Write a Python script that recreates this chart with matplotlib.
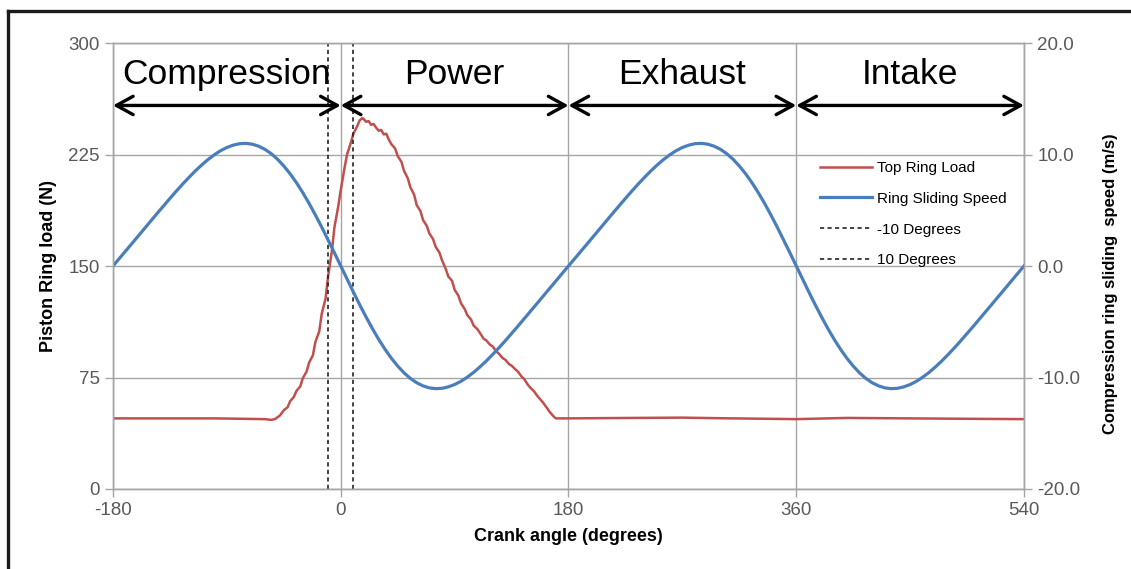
import matplotlib
matplotlib.use("Agg")
import matplotlib.pyplot as plt
from matplotlib.lines import Line2D

plt.rcParams['font.family'] = ['Liberation Sans', 'DejaVu Sans']
plt.rcParams['axes.unicode_minus'] = False

# Ring sliding speed (m/s), read every 5 degrees of crank angle
speed_deg = list(range(-180, 545, 5))
speed_val = [
    # -180 .. 0
    0.00, 0.67, 1.35, 2.02, 2.70, 3.38, 4.05, 4.73, 5.40, 6.06, 6.71, 7.34,
    7.94, 8.52, 9.05, 9.54, 9.97, 10.34, 10.63, 10.84, 10.97, 11.00, 10.93,
    10.75, 10.47, 10.08, 9.58, 8.97, 8.27, 7.47, 6.58, 5.61, 4.57, 3.48,
    2.34, 1.18, 0.00,
    # 5 .. 180
    -1.18, -2.34, -3.48, -4.57, -5.61, -6.58, -7.47, -8.27, -8.97, -9.58,
    -10.08, -10.47, -10.75, -10.93, -11.00, -10.97, -10.84, -10.63, -10.34,
    -9.97, -9.54, -9.05, -8.52, -7.94, -7.34, -6.71, -6.06, -5.40, -4.73,
    -4.05, -3.38, -2.70, -2.02, -1.35, -0.67, 0.00,
    # 185 .. 360
    0.67, 1.35, 2.02, 2.70, 3.38, 4.05, 4.73, 5.40, 6.06, 6.71, 7.34,
    7.94, 8.52, 9.05, 9.54, 9.97, 10.34, 10.63, 10.84, 10.97, 11.00, 10.93,
    10.75, 10.47, 10.08, 9.58, 8.97, 8.27, 7.47, 6.58, 5.61, 4.57, 3.48,
    2.34, 1.18, 0.00,
    # 365 .. 540
    -1.18, -2.34, -3.48, -4.57, -5.61, -6.58, -7.47, -8.27, -8.97, -9.58,
    -10.08, -10.47, -10.75, -10.93, -11.00, -10.97, -10.84, -10.63, -10.34,
    -9.97, -9.54, -9.05, -8.52, -7.94, -7.34, -6.71, -6.06, -5.40, -4.73,
    -4.05, -3.38, -2.70, -2.02, -1.35, -0.67, 0.00,
]

# Top ring load (N)
load_deg = [-180, -100, -60, -55, -52, -48, -45, -42, -40, -37, -35, -32, -30,
            -27, -25, -22, -20, -17, -15, -12, -10, -7, -5, -2, 0, 3, 5, 8, 10,
            13, 15, 17, 18, 20, 22, 24, 26, 28, 30, 32, 34, 36, 38, 40, 43, 45,
            48, 50, 53, 55, 58, 60, 63, 65, 68, 70, 73, 75, 78, 80, 83, 85, 88,
            90, 93, 95, 98, 100, 103, 105, 108, 110, 113, 115, 118, 120, 123,
            125, 128, 130, 133, 135, 138, 140, 143, 145, 148, 150, 153, 155,
            158, 160, 163, 165, 168, 170, 180, 230, 270, 300, 360, 400, 450,
            500, 540]
load_val = [47.5, 47.5, 47.0, 46.5, 47.0, 49.5, 53, 55, 59, 62, 66, 69, 74.5,
            79, 85, 90, 99, 106, 118, 128, 143, 160, 176, 190, 201, 216, 225,
            233, 239, 244, 248, 249.5, 249, 247, 247.5, 245, 245.5, 243, 241,
            241.5, 238.5, 239, 235, 232, 229, 224, 220, 214, 209, 203, 198,
            191, 187, 181, 177, 172, 168, 163, 159, 154, 148, 143, 140, 134,
            130, 125, 121, 117, 114, 110, 107.5, 105, 101, 100, 97, 96, 92.5,
            91, 88, 87, 84, 83, 80.5, 79, 75.5, 74, 70, 68, 65.5, 63, 60,
            58, 54.5, 52, 49, 47.5, 47.5, 47.8, 48, 47.6, 47, 47.8, 47.5,
            47.2, 47]

markers_deg = [-10, 10]
marker_labels = ['-10 Degrees', '10 Degrees']

strokes = ['Compression', 'Power', 'Exhaust', 'Intake']
stroke_start = [-180, 0, 180, 360]
stroke_end = [0, 180, 360, 540]

x_ticks = [-180, 0, 180, 360, 540]
y_ticks = [0, 75, 150, 225, 300]
y2_ticks = [-20, -10, 0, 10, 20]

RED = '#C0504D'
BLUE = '#4A7EBB'
GRID = '#a6a6a6'
TICK_TXT = '#595959'

fig = plt.figure(figsize=(11.31, 5.69), dpi=100)
ax = fig.add_axes([0.0999, 0.1406, 0.8055, 0.7838])
ax2 = ax.twinx()

ax.set_xlim(-180, 540)
ax.set_ylim(0, 300)
ax2.set_ylim(-20, 20)
ax.set_xticks(x_ticks)
ax.set_yticks(y_ticks)
ax2.set_yticks(y2_ticks)
ax2.set_yticklabels([f'{v:.1f}' for v in y2_ticks])

ax.grid(True, color=GRID, lw=1)
ax.set_axisbelow(True)
for a in (ax, ax2):
    for s in a.spines.values():
        s.set_color(GRID)
        s.set_linewidth(1)
    a.tick_params(colors=GRID, labelcolor=TICK_TXT, labelsize=13.5, length=6, width=1)

# load and marker lines on left axis
l1, = ax.plot(load_deg, load_val, color=RED, lw=1.8, label='Top Ring Load')
mk = []
for d, lab in zip(markers_deg, marker_labels):
    h = ax.axvline(d, color='#222222', lw=1.2, ls=(0, (2.5, 2)), label=lab)
    mk.append(h)

# speed on right axis
l2, = ax2.plot(speed_deg, speed_val, color=BLUE, lw=2.3, label='Ring Sliding Speed')

# stroke arrows and names
for name, a, b in zip(strokes, stroke_start, stroke_end):
    ax.annotate('', xy=(b, 258), xytext=(a, 258),
                arrowprops=dict(arrowstyle='<->,head_length=1.0,head_width=0.55',
                                mutation_scale=12, lw=2.4, color='black',
                                shrinkA=0, shrinkB=0))
    ax.text((a + b) / 2, 279, name, ha='center', va='center', fontsize=25.5)

ax.set_xlabel('Crank angle (degrees)', fontsize=13, fontweight='bold', labelpad=6)
ax.set_ylabel('Piston Ring load (N)', fontsize=13, fontweight='bold', labelpad=8)
ax2.set_ylabel('Compression ring sliding  speed (m/s)', fontsize=12, fontweight='bold')
ax2.yaxis.set_label_coords(1.087, 0.46)

fig.legend([l1, l2] + mk, ['Top Ring Load', 'Ring Sliding Speed'] + marker_labels,
           loc='upper left', bbox_to_anchor=(0.725, 0.717), frameon=False,
           fontsize=11, handlelength=3.4, handletextpad=0.3, labelspacing=1.1,
           borderpad=0, borderaxespad=0)

# outer frame (top and left edges)
fig.add_artist(Line2D([8 / 1131, 1], [1 - 11 / 569] * 2, transform=fig.transFigure,
                      color='#1a1a1a', lw=2.4))
fig.add_artist(Line2D([8 / 1131] * 2, [0, 1 - 11 / 569], transform=fig.transFigure,
                      color='#1a1a1a', lw=2.4))

fig.savefig('out.png', dpi=100)
